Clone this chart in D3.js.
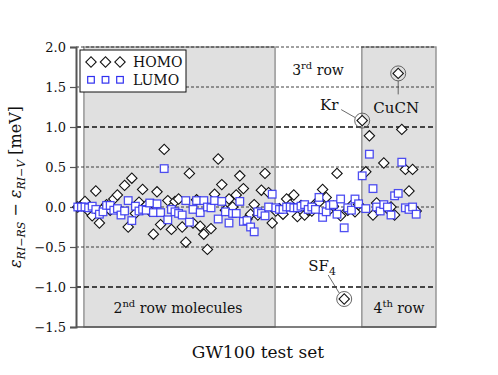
<!DOCTYPE html>
<html>
<head>
<meta charset="utf-8">
<script src="https://cdn.jsdelivr.net/npm/d3@7"></script>
<style>
  body { margin: 0; background: #fff; }
  svg { font-family: "DejaVu Serif", "Liberation Serif", serif; }
</style>
</head>
<body>
<div id="chart"></div>
<script>
// differences eps(RI-RS) - eps(RI-V) in meV, one value per molecule (index = position in the test set)
const homo = [
  0.00, 0.02, 0.07, -0.05, -0.11, 0.20, -0.20, -0.02, 0.03, -0.04,
  0.10, 0.15, -0.06, 0.27, -0.25, 0.36, -0.08, 0.06, 0.22, 0.02,
  -0.05, -0.34, 0.19, -0.22, 0.72, 0.08, -0.28, 0.07, 0.10, -0.25,
  -0.44, 0.42, -0.20, 0.09, -0.24, -0.34, -0.53, -0.27, 0.16, 0.60,
  0.28, -0.04, 0.10, 0.00, 0.15, 0.39, 0.23, -0.15, -0.09, 0.03,
  -0.10, 0.21, 0.42, 0.18, -0.20, -0.05, -0.02, -0.09, 0.10, 0.03,
  0.15, -0.12, 0.02, -0.10, -0.04, -0.05, 0.04, 0.06, 0.22, 0.12,
  -0.03, 0.01, 0.42, -0.11, -1.15, -0.04, 0.02, -0.06, 0.03, 1.08,
  0.44, 0.89, -0.10, 0.05, -0.03, 0.55, -0.02, 0.00, -0.10, 1.67,
  0.97, 0.47, 0.20, 0.47, -0.05
];
const lumo = [
  0.00, 0.00, 0.00, -0.01, 0.01, -0.03, -0.09, -0.06, 0.02, 0.02,
  -0.04, -0.02, -0.10, -0.05, 0.08, -0.17, 0.01, -0.05, -0.03, -0.04,
  0.05, -0.07, 0.04, -0.07, 0.48, -0.16, -0.03, -0.06, -0.08, -0.10,
  0.08, -0.19, -0.03, 0.08, -0.07, 0.08, 0.00, -0.01, 0.08, -0.15,
  0.07, -0.06, -0.20, -0.08, -0.08, 0.07, -0.18, -0.17, -0.25, -0.31,
  -0.06, -0.08, -0.11, 0.00, 0.16, -0.01, -0.03, -0.03, 0.00, 0.00,
  -0.01, -0.01, 0.01, 0.03, -0.03, 0.00, -0.03, 0.12, -0.13, -0.06,
  0.02, 0.03, -0.09, 0.10, -0.26, -0.01, -0.04, 0.10, 0.04, 0.39,
  -0.02, 0.66, 0.23, 0.00, -0.05, 0.03, 0.00, -0.10, 0.14, 0.17,
  0.56, -0.01, -0.03, 0.00, -0.09
];
const yTicks = [-1.5, -1.0, -0.5, 0.0, 0.5, 1.0, 1.5, 2.0];
// shaded blocks of the periodic table rows (in molecule-index units)
const shadedRows = [[1.7, 54.8], [78.9, 99.5]];
// highlighted outliers: [index, label, label dx, label dy]
const outliers = [[79, "Kr", -33, -11], [89, "CuCN", -2, 40], [74, "SF", -22, -28]];

const W = 498, H = 375;
const svg = d3.select("#chart").append("svg").attr("width", W).attr("height", H);

const x = d3.scaleLinear().domain([-0.5, 99.5]).range([76, 436]);
const y = d3.scaleLinear().domain([-1.5, 2.0]).range([327, 47]);

// grey row blocks
svg.selectAll("rect.row").data(shadedRows).enter().append("rect")
  .attr("x", d => x(d[0])).attr("width", d => x(d[1]) - x(d[0]))
  .attr("y", y(2.0)).attr("height", y(-1.5) - y(2.0))
  .attr("fill", "#e0e0e0").attr("stroke", "#909090").attr("stroke-width", 1.4);

// dashed grid
svg.selectAll("line.grid").data(yTicks.slice(1)).enter().append("line")
  .attr("x1", x(-0.5)).attr("x2", x(99.5))
  .attr("y1", d => y(d)).attr("y2", d => y(d))
  .attr("stroke", "#111")
  .attr("stroke-width", d => Math.abs(d) === 1 ? 1.6 : 0.8)
  .attr("stroke-dasharray", d => Math.abs(d) === 1 ? "5,3" : "3,2");

// bottom edge
svg.append("line").attr("x1", x(-0.5)).attr("x2", x(99.5))
  .attr("y1", y(-1.5)).attr("y2", y(-1.5)).attr("stroke", "#555").attr("stroke-width", 1.5);

// y axis
const yAxis = svg.append("g").attr("transform", `translate(${x(-0.5)},0)`)
  .call(d3.axisLeft(y).tickValues(yTicks).tickFormat(d3.format(".1f")).tickSize(6).tickPadding(4));
yAxis.select(".domain").attr("stroke", "#555").attr("stroke-width", 2);
yAxis.selectAll(".tick line").attr("stroke", "#555").attr("stroke-width", 1.2);
yAxis.selectAll(".tick text").attr("font-family", "DejaVu Serif").attr("font-size", 13).attr("fill", "#111");

// diamonds (HOMO)
const diamond = d3.symbol().type(d3.symbolSquare).size(54);
svg.append("g").selectAll("path").data(homo).enter().append("path")
  .attr("d", diamond)
  .attr("transform", (d, i) => `translate(${x(i)},${y(d)}) rotate(45)`)
  .attr("fill", "#fff").attr("stroke", "#111").attr("stroke-width", 1.1);

// squares (LUMO)
svg.append("g").selectAll("rect").data(lumo).enter().append("rect")
  .attr("x", (d, i) => x(i) - 3.8).attr("y", d => y(d) - 3.8)
  .attr("width", 7.6).attr("height", 7.6)
  .attr("fill", "#fff").attr("stroke", "#3030f0").attr("stroke-width", 1.3).attr("stroke-opacity", 0.85);

// outlier annotations
outliers.forEach(([i, name, dx, dy]) => {
  const cx = x(i), cy = y(homo[i]);
  svg.append("circle").attr("cx", cx).attr("cy", cy).attr("r", 7.5)
    .attr("fill", "none").attr("stroke", "#555").attr("stroke-width", 0.9);
  const t = svg.append("text").attr("x", cx + dx).attr("y", cy + dy).attr("font-size", 15)
    .attr("text-anchor", "middle").attr("fill", "#111").text(name);
  if (name === "SF") t.append("tspan").attr("font-size", 11).attr("dy", 4).text("4");
});
// leader lines
svg.append("line").attr("x1", x(79) - 21).attr("y1", y(homo[79]) - 11)
  .attr("x2", x(79) - 7).attr("y2", y(homo[79]) - 3).attr("stroke", "#444").attr("stroke-width", 0.8);
svg.append("line").attr("x1", x(89)).attr("y1", y(homo[89]) + 7.5)
  .attr("x2", x(89)).attr("y2", y(homo[89]) + 21).attr("stroke", "#444").attr("stroke-width", 0.8);
svg.append("line").attr("x1", x(74) - 16).attr("y1", y(homo[74]) - 24)
  .attr("x2", x(74) - 5).attr("y2", y(homo[74]) - 6).attr("stroke", "#444").attr("stroke-width", 0.8);

// row labels
function rowLabel(cx, cy, num, sup, rest) {
  const t = svg.append("text").attr("x", cx).attr("y", cy).attr("text-anchor", "middle")
    .attr("font-size", 14).attr("fill", "#111");
  t.append("tspan").text(num);
  t.append("tspan").attr("font-size", 10).attr("dy", -6).text(sup);
  t.append("tspan").attr("dy", 6).text(rest);
}
rowLabel(178, 313, "2", "nd", " row molecules");
rowLabel(318, 75, "3", "rd", " row");
rowLabel(399, 313, "4", "th", " row");

// legend
const lg = svg.append("g");
lg.append("rect").attr("x", 80).attr("y", 50).attr("width", 106).attr("height", 42)
  .attr("fill", "#fff").attr("stroke", "#111").attr("stroke-width", 1);
[91, 105.5, 120].forEach(px => {
  lg.append("path").attr("d", diamond).attr("transform", `translate(${px},62) rotate(45)`)
    .attr("fill", "#fff").attr("stroke", "#111").attr("stroke-width", 1.1);
  lg.append("rect").attr("x", px - 3.3).attr("y", 76.5).attr("width", 6.6).attr("height", 6.6)
    .attr("fill", "#fff").attr("stroke", "#3030f0").attr("stroke-width", 1.2);
});
lg.append("text").attr("x", 133).attr("y", 67).attr("font-size", 14).attr("fill", "#111").text("HOMO");
lg.append("text").attr("x", 133).attr("y", 85).attr("font-size", 14).attr("fill", "#111").text("LUMO");

// axis labels
svg.append("text").attr("x", 258).attr("y", 358).attr("text-anchor", "middle")
  .attr("font-size", 17).attr("fill", "#111").text("GW100 test set");

const yl = svg.append("text").attr("transform", "translate(21,187) rotate(-90)")
  .attr("text-anchor", "middle").attr("font-size", 16).attr("fill", "#111");
yl.append("tspan").attr("font-style", "italic").text("ε");
yl.append("tspan").attr("font-style", "italic").attr("font-size", 11).attr("dy", 4).text("RI−RS");
yl.append("tspan").attr("dy", -4).text(" − ");
yl.append("tspan").attr("font-style", "italic").text("ε");
yl.append("tspan").attr("font-style", "italic").attr("font-size", 11).attr("dy", 4).text("RI−V");
yl.append("tspan").attr("dy", -4).text(" [meV]");
</script>
</body>
</html>
